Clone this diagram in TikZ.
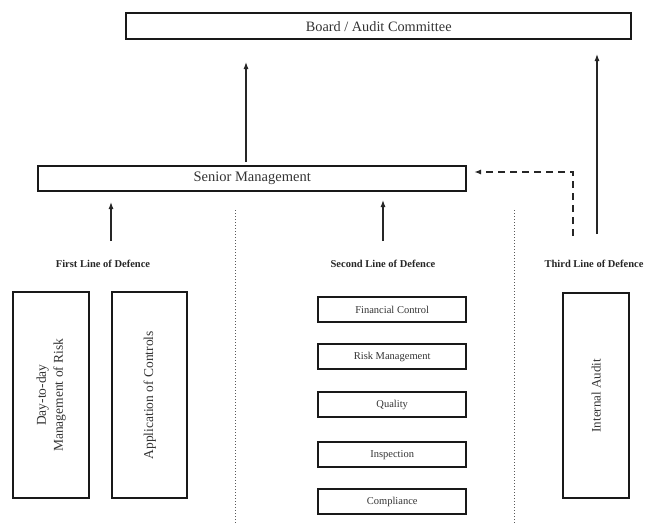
\documentclass[tikz,border=0pt]{standalone}
\usepackage{fontspec}
\setmainfont{Liberation Serif}
\usetikzlibrary{arrows.meta}
\begin{document}
\begin{tikzpicture}[x=1pt,y=-1pt,
  box/.style={draw=black!90,line width=2.4pt,inner sep=0pt,anchor=north west},
  arr/.style={line width=1.1pt,draw=black!85,-{Latex[length=7pt,width=5pt]}},
  lbl/.style={font=\fontsize{10.5}{12}\selectfont\bfseries,text=black!85},
  sep/.style={dotted,line width=1pt,draw=black!65}]
\useasboundingbox (0,0) rectangle (647,523);
\node[box,minimum width=505pt,minimum height=26pt,font=\fontsize{14.3}{16}\selectfont,text=black!80] (board) at (125,12) {Board / Audit Committee};
\node[box,minimum width=428pt,minimum height=25pt,font=\fontsize{14.5}{16}\selectfont,text=black!80] (senior) at (37,165) {Senior Management};
% labels
\node[lbl] (first) at (103,264) {First Line of Defence};
\node[lbl] (second) at (383,264) {Second Line of Defence};
\node[lbl] (third) at (594,264) {Third Line of Defence};
% first line boxes
\node[box,minimum width=76pt,minimum height=206pt] (day) at (12,291) {};
\node[rotate=90,align=center,font=\fontsize{13.5}{17}\selectfont,text=black!80] at (day.center) {Day-to-day\\Management of Risk};
\node[box,minimum width=75pt,minimum height=206pt] (app) at (111,291) {};
\node[rotate=90,font=\fontsize{13.5}{15}\selectfont,text=black!80] at (app.center) {Application of Controls};
% second line boxes
\tikzset{small/.style={box,minimum width=148pt,minimum height=25pt,font=\fontsize{10.5}{12}\selectfont,text=black!80}}
\node[small] (fin) at (317,296) {Financial Control};
\node[small] (risk) at (317,343) {Risk Management};
\node[small] (qual) at (317,391) {Quality};
\node[small] (insp) at (317,441) {Inspection};
\node[small] (comp) at (317,488) {Compliance};
% third line box
\node[box,minimum width=66pt,minimum height=205pt] (ia) at (562,292) {};
\node[rotate=90,font=\fontsize{13}{15}\selectfont,text=black!80] at (ia.center) {Internal Audit};
% coordinates
\coordinate (a1s) at (111,241);
\coordinate (a1e) at (111,202);
\coordinate (a2s) at (383,241);
\coordinate (a2e) at (383,200);
\coordinate (a3s) at (246,162);
\coordinate (a3e) at (246,62);
\coordinate (a4s) at (597,234);
\coordinate (a4e) at (597,54);
\coordinate (ds) at (573,236);
\coordinate (dc) at (573,172);
\coordinate (de) at (474,172);
\draw[arr] (a1s) -- (a1e);
\draw[arr] (a2s) -- (a2e);
\draw[arr] (a3s) -- (a3e);
\draw[arr] (a4s) -- (a4e);
\draw[arr,line width=1.6pt,dash pattern=on 7pt off 5pt] (ds) -- (dc) -- (de);
% separators
\coordinate (s1a) at (235,210); \coordinate (s1b) at (235,523);
\coordinate (s2a) at (514,210); \coordinate (s2b) at (514,523);
\draw[sep] (s1a) -- (s1b);
\draw[sep] (s2a) -- (s2b);
\end{tikzpicture}
\end{document}
